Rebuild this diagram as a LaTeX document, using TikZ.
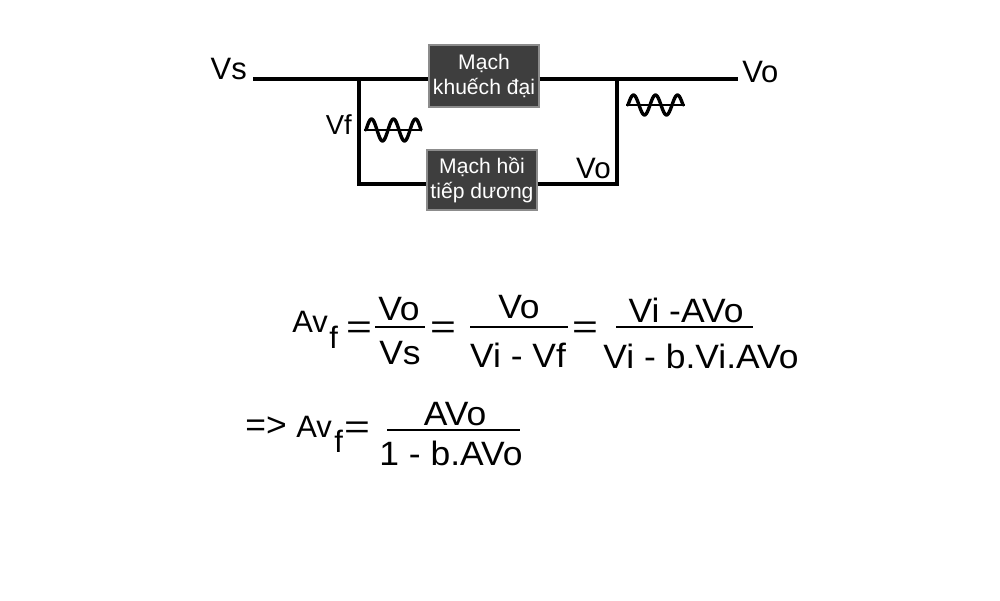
\documentclass[tikz,border=0pt]{standalone}
\usepackage{fontspec}
\setmainfont{Liberation Sans}
\newfontfamily\eqfont[FakeStretch=1.05]{Liberation Sans}
\usepackage{xcolor}
\usetikzlibrary{positioning}
\definecolor{blockgray}{RGB}{62,62,62}
\tikzset{block/.style = {fill=blockgray, draw=black!45, line width=0.8pt, text=white, align=center, inner sep=0, font=\fontsize{15}{17.8}\selectfont}}
\tikzset{wire/.style = {line width=2.2pt}}
\tikzset{lbl/.style = {inner sep=0, font=\fontsize{22}{26}\selectfont}}
\tikzset{eq/.style = {inner sep=0, font=\eqfont\fontsize{24}{28}\selectfont}}
\tikzset{avlbl/.style = {inner sep=0, font=\fontsize{22}{26}\selectfont}}
\tikzset{wave/.style = {line width=2.4pt, line join=round, line cap=round}}
\tikzset{waveaxis/.style = {line width=1pt}}
\tikzset{bar/.style = {line width=2.1pt}}
\newcommand{\eqsign}{\scalebox{1.25}[1]{=}}

\begin{document}
\begin{tikzpicture}[x=0.025cm, y=-0.025cm]
      \useasboundingbox (0,0) rectangle (1000,600);
      % circuit
      \coordinate (vsend) at (253,79);
      \coordinate (jl) at (359,79);
      \coordinate (jr) at (617,79);
      \coordinate (voend) at (738,79);
      \coordinate (bl) at (359,184);
      \coordinate (br) at (617,184);
      \node[block, minimum width=2.75cm, minimum height=1.55cm] (amp) at (484,76) {Mạch\\khuếch đại};
      \node[block, minimum width=2.75cm, minimum height=1.5cm] (fb) at (482,180) {Mạch hồi\\tiếp dương};
      \draw[wire] (vsend) -- (vsend -| amp.west);
      \draw[wire] (voend -| amp.east) -- (voend);
      \draw[wire] (jl) -- (bl) -- (bl -| fb.west);
      \draw[wire] (bl -| fb.east) -- (br) -- (jr);
      \node[lbl, anchor=base east] (vs) at (247,79) {Vs};
      \node[lbl, anchor=base west] (vo) at (742,82) {Vo};
      \node[lbl, anchor=base east, font=\fontsize{19.5}{23}\selectfont] (vf) at (352,134) {Vf};
      \node[lbl, anchor=base east, font=\fontsize{21}{25}\selectfont] (vofb) at (611,178) {Vo};
      % sine signs
      \draw[waveaxis] (364,130) -- (421,130);
      \draw[wave] plot[domain=0:2.5, samples=61, smooth] ({366+22*\x}, {130-11*sin(\x*360)});
      \draw[waveaxis] (626,105) -- (685,105);
      \draw[wave] plot[domain=0:2.5, samples=61, smooth] ({628+22*\x}, {105-10*sin(\x*360)});
      % first formula
      \node[avlbl, anchor=base west] (av) at (292,332) {Av};
      \node[avlbl, anchor=base west] (avf) at (329,348) {f};
      \node[eq, anchor=base] (eqa) at (359,338) {\eqsign};
      \draw[bar] (375,327) -- (425,327);
      \node[eq, anchor=base] (numa) at (399,320) {Vo};
      \node[eq, anchor=base] (dena) at (400,364) {Vs};
      \node[eq, anchor=base] (eqb) at (443,338) {\eqsign};
      \draw[bar] (470,327) -- (568,327);
      \node[eq, anchor=base] (numb) at (519,318) {Vo};
      \node[eq, anchor=base] (denb) at (518,367) {Vi - Vf};
      \node[eq, anchor=base] (eqc) at (585,338) {\eqsign};
      \draw[bar] (616,327) -- (753,327);
      \node[eq, anchor=base] (numc) at (686,322) {Vi -AVo};
      \node[eq, anchor=base] (denc) at (701,368) {Vi - b.Vi.AVo};
      % second formula
      \node[eq, anchor=base] (impl) at (266,436) {=>};
      \node[avlbl, anchor=base west] (av2) at (296,437) {Av};
      \node[avlbl, anchor=base west] (avf2) at (334,452) {f};
      \node[eq, anchor=base] (eqd) at (357,438) {\eqsign};
      \draw[bar] (387,430) -- (520,430);
      \node[eq, anchor=base] (numd) at (455,425) {AVo};
      \node[eq, anchor=base] (dend) at (451,465) {1 - b.AVo};
\end{tikzpicture}
\end{document}
